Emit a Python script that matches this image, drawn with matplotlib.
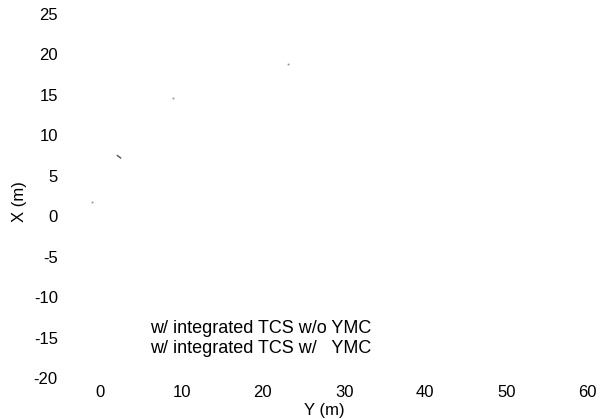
import matplotlib
matplotlib.use("Agg")
import matplotlib.pyplot as plt

plt.rcParams['font.family'] = ['Liberation Sans', 'DejaVu Sans']
plt.rcParams['axes.unicode_minus'] = False

# visible fragments of the two trajectories (Y in m, X in m)
traj_wo_y = [-1.0, 8.9, 23.1]
traj_wo_x = [1.7, 14.6, 18.8]
traj_w_y = [2.1, 2.5]
traj_w_x = [7.5, 7.2]

xticks = [0, 10, 20, 30, 40, 50, 60]
yticks = [25, 20, 15, 10, 5, 0, -5, -10, -15, -20]
labels = ["w/ integrated TCS w/o YMC", "w/ integrated TCS w/   YMC"]

fig = plt.figure(figsize=(6.09, 4.19), dpi=100)
ax = fig.add_axes([80/609, 1-378/419, (596-80)/609, (378-14)/419])

ax.plot(traj_wo_y, traj_wo_x, linestyle='none', marker='s', markersize=1.2,
        color='#888888', markeredgewidth=0)
ax.plot(traj_w_y, traj_w_x, color='#555555', linewidth=1.0)

ax.set_xlim(-2.5, 61)
ax.set_ylim(-20, 25)
ax.set_xticks(xticks)
ax.set_yticks(yticks)
ax.tick_params(length=0, labelsize=12, colors='black')
ax.tick_params(axis='y', pad=16)
ax.tick_params(axis='x', pad=5)
for s in ax.spines.values():
    s.set_visible(False)

ax.set_xlabel("Y (m)", fontsize=12)
ax.xaxis.set_label_coords(0.473, -0.088)
ax.xaxis.label.set_va('center')
ax.set_ylabel("X (m)", fontsize=12)
ax.yaxis.set_label_coords(-0.118, 0.4835)
ax.yaxis.label.set_va('center')

ax.text(150/609, 1-328/419, labels[0], transform=fig.transFigure,
        fontsize=13, va='center', ha='left')
ax.text(150/609, 1-348/419, labels[1], transform=fig.transFigure,
        fontsize=13, va='center', ha='left')

fig.savefig("out.png", dpi=100)
